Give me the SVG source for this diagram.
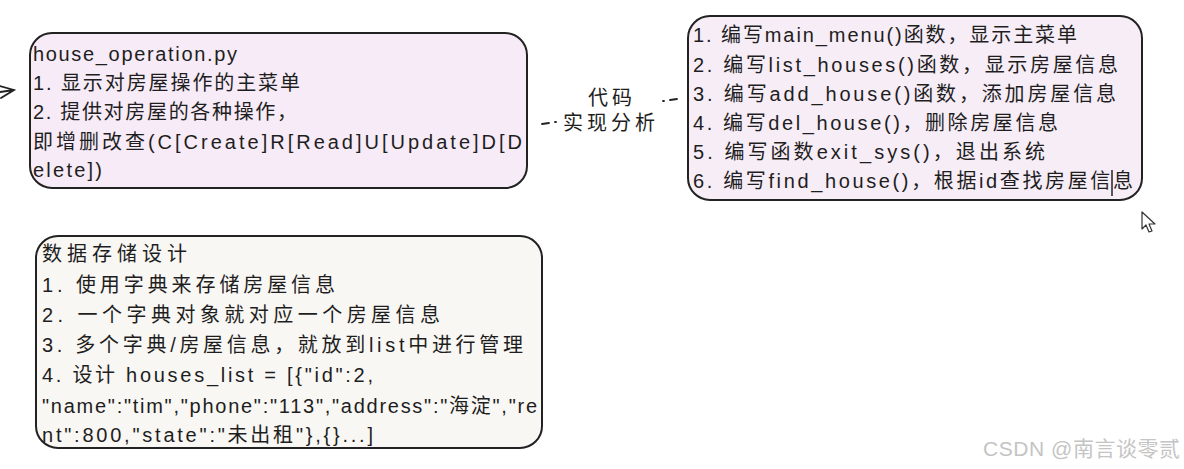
<svg xmlns="http://www.w3.org/2000/svg" width="1184" height="469" viewBox="0 0 1184 469">
<style>
.t{font-family:"Liberation Sans","Noto Sans CJK SC",sans-serif;font-size:20px;fill:#1e1e1e}
.box{stroke:#222;stroke-width:2}
.con{fill:none;stroke:#222;stroke-width:1.8;stroke-linecap:round}
.wm{font-family:"Liberation Sans","Noto Sans CJK SC",sans-serif;font-size:21px;fill:#c4c4c4}
</style>
<rect width="1184" height="469" fill="#ffffff"/>
<g id="connectors">
<path class="con" d="M0,86 L14,90 L1,98 M0,92 L14,90"/>
<path class="con" d="M542,124 L549,123 M555,122 L556,122"/>
<path class="con" d="M663,101 L664,101 M670,100 L677,99"/>
</g>
<g id="node-house-operation">
<rect class="box" x="30" y="33" width="497" height="155" rx="22" fill="#f7ebf7"/>
<text class="t" x="33" y="61" textLength="204">house_operation.py</text>
<text class="t" x="33" y="90" textLength="267">1. 显示对房屋操作的主菜单</text>
<text class="t" x="33" y="119" textLength="264">2. 提供对房屋的各种操作，</text>
<text class="t" x="33" y="149" textLength="489">即增删改查(C[Create]R[Read]U[Update]D[D</text>
<text class="t" x="33" y="177" textLength="69">elete])</text>
</g>
<g id="label-code">
<text class="t" x="588" y="105" textLength="44">代码</text>
<text class="t" x="563" y="130" textLength="92">实现分析</text>
</g>
<g id="node-functions">
<rect class="box" x="688" y="16" width="454" height="184" rx="22" fill="#f7edf7"/>
<text class="t" x="693" y="42" textLength="384">1. 编写main_menu()函数，显示主菜单</text>
<text class="t" x="693" y="72" textLength="425">2. 编写list_houses()函数，显示房屋信息</text>
<text class="t" x="693" y="101" textLength="423">3. 编写add_house()函数，添加房屋信息</text>
<text class="t" x="693" y="130" textLength="365">4. 编写del_house()，删除房屋信息</text>
<text class="t" x="693" y="159" textLength="352">5. 编写函数exit_sys()，退出系统</text>
<text class="t" x="693" y="188" textLength="440">6. 编写find_house()，根据id查找房屋信息</text>
<path d="M1112,170 L1112,196" stroke="#222" stroke-width="1.5"/>
</g>
<g id="node-storage">
<rect class="box" x="36" y="236" width="506" height="212" rx="22" fill="#f9f7f4"/>
<text class="t" x="42" y="261" textLength="145">数据存储设计</text>
<text class="t" x="42" y="292" textLength="293">1. 使用字典来存储房屋信息</text>
<text class="t" x="42" y="322" textLength="398">2. 一个字典对象就对应一个房屋信息</text>
<text class="t" x="42" y="352" textLength="481">3. 多个字典/房屋信息，就放到list中进行管理</text>
<text class="t" x="42" y="382" textLength="331">4. 设计 houses_list = [{"id":2,</text>
<text class="t" x="42" y="413" textLength="495">"name":"tim","phone":"113","address":"海淀","re</text>
<text class="t" x="42" y="442" textLength="331">nt":800,"state":"未出租"},{}...]</text>
</g>
<g id="cursor">
<path d="M1142,212 L1142,229 L1146,225 L1149,232 L1152,231 L1149,224 L1155,224 Z" fill="#ffffff" stroke="#333" stroke-width="1.2" stroke-linejoin="round"/>
</g>
<text class="wm" x="983" y="456" textLength="197">CSDN @南言谈零贰</text>
</svg>
